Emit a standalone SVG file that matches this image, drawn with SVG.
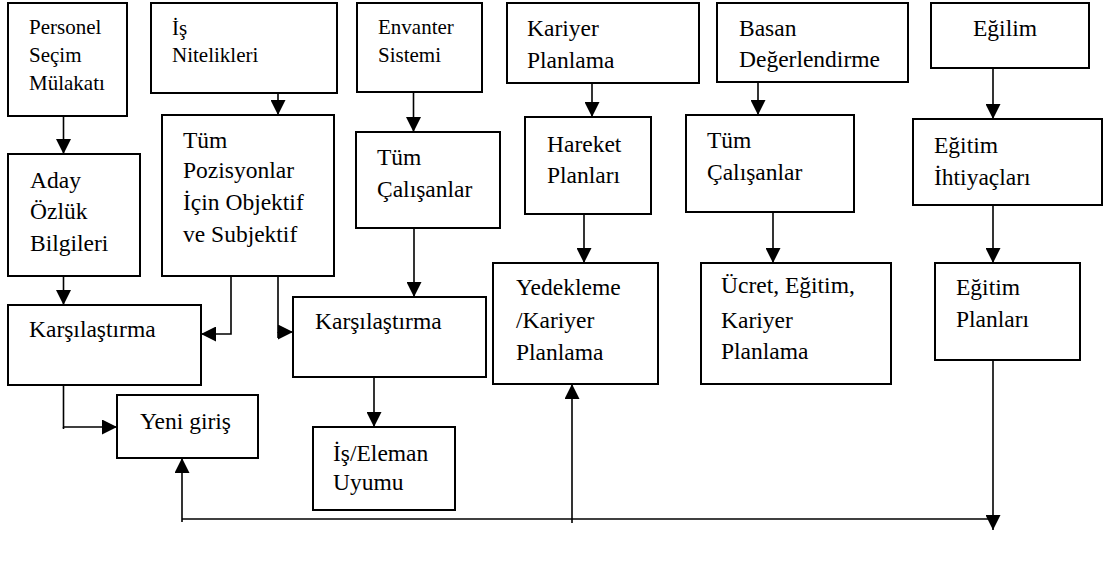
<svg xmlns="http://www.w3.org/2000/svg" width="1104" height="586" viewBox="0 0 1104 586">
<style>
.box{fill:#fff;stroke:#000;stroke-width:2}
.t{font-family:"Liberation Serif","Times New Roman",serif;font-size:23.5px;fill:#000}
.s{font-family:"Liberation Serif","Times New Roman",serif;font-size:21px;fill:#000}
.c{fill:none;stroke:#000;stroke-width:1.6}
.a{marker-end:url(#ah)}
</style>
<defs>
<marker id="ah" viewBox="0 0 10 10" refX="10" refY="5" markerUnits="userSpaceOnUse" markerWidth="16" markerHeight="15" orient="auto">
<path d="M0,0 L10,5 L0,10 z" fill="#000"/>
</marker>
</defs>
<rect width="1104" height="586" fill="#fff"/>
<g id="connectors">
<line class="c a" x1="63.5" y1="116" x2="63.5" y2="154"/>
<line class="c a" x1="278" y1="93" x2="278" y2="115"/>
<line class="c a" x1="413.5" y1="92" x2="413.5" y2="132"/>
<line class="c a" x1="592" y1="83" x2="592" y2="117"/>
<line class="c a" x1="758" y1="82" x2="758" y2="115"/>
<line class="c a" x1="993" y1="68" x2="993" y2="119"/>
<line class="c a" x1="63.5" y1="276" x2="63.5" y2="305"/>
<polyline class="c a" points="231,276 231,334 201,334"/>
<polyline class="c a" points="278,276 278,332 293,332"/>
<line class="c" x1="278" y1="332" x2="278" y2="338"/>
<line class="c a" x1="414" y1="228" x2="414" y2="297"/>
<line class="c a" x1="584" y1="214" x2="584" y2="263"/>
<line class="c a" x1="773" y1="212" x2="773" y2="263"/>
<line class="c a" x1="993" y1="205" x2="993" y2="263"/>
<polyline class="c a" points="63.5,385 63.5,427 117,427"/>
<line class="c" x1="63.5" y1="427" x2="63.5" y2="429"/>
<line class="c a" x1="374" y1="377" x2="374" y2="427"/>
<line class="c" x1="182" y1="519" x2="993" y2="519"/>
<line class="c a" x1="182" y1="522" x2="182" y2="458"/>
<line class="c a" x1="572" y1="523" x2="572" y2="384"/>
<line class="c a" x1="993" y1="360" x2="993" y2="530"/>
</g>
<g id="n-personel">
<rect class="box" x="8" y="3" width="119" height="113"/>
<text class="s" x="29" y="34">Personel</text>
<text class="s" x="29" y="62">Seçim</text>
<text class="s" x="29" y="90">Mülakatı</text>
</g>
<g id="n-is-nitelikleri">
<rect class="box" x="151" y="3" width="186" height="90"/>
<text class="s" x="172" y="35">İş</text>
<text class="s" x="172" y="62">Nitelikleri</text>
</g>
<g id="n-envanter">
<rect class="box" x="357" y="3" width="125" height="89"/>
<text class="s" x="378" y="34">Envanter</text>
<text class="s" x="378" y="62">Sistemi</text>
</g>
<g id="n-kariyer">
<rect class="box" x="507" y="3" width="192" height="80"/>
<text class="t" x="527" y="36">Kariyer</text>
<text class="t" x="527" y="68">Planlama</text>
</g>
<g id="n-basan">
<rect class="box" x="717" y="3" width="191" height="79"/>
<text class="t" x="739" y="36">Basan</text>
<text class="t" x="739" y="67">Değerlendirme</text>
</g>
<g id="n-egilim">
<rect class="box" x="931" y="3" width="158" height="65"/>
<text class="t" x="973" y="36">Eğilim</text>
</g>
<g id="n-aday">
<rect class="box" x="8" y="154" width="132" height="122"/>
<text class="t" x="30" y="188">Aday</text>
<text class="t" x="30" y="219">Özlük</text>
<text class="t" x="30" y="251">Bilgileri</text>
</g>
<g id="n-tum-pozisyonlar">
<rect class="box" x="162" y="115" width="172" height="161"/>
<text class="t" x="183" y="148">Tüm</text>
<text class="t" x="183" y="178">Pozisyonlar</text>
<text class="t" x="183" y="210">İçin Objektif</text>
<text class="t" x="183" y="242">ve Subjektif</text>
</g>
<g id="n-tum-calisanlar-1">
<rect class="box" x="356" y="132" width="144" height="96"/>
<text class="t" x="377" y="165">Tüm</text>
<text class="t" x="377" y="197">Çalışanlar</text>
</g>
<g id="n-hareket">
<rect class="box" x="525" y="117" width="126" height="97"/>
<text class="t" x="547" y="152">Hareket</text>
<text class="t" x="547" y="183">Planları</text>
</g>
<g id="n-tum-calisanlar-2">
<rect class="box" x="686" y="115" width="168" height="97"/>
<text class="t" x="707" y="148">Tüm</text>
<text class="t" x="707" y="180">Çalışanlar</text>
</g>
<g id="n-egitim-ihtiyaclari">
<rect class="box" x="913" y="119" width="189" height="86"/>
<text class="t" x="934" y="153">Eğitim</text>
<text class="t" x="934" y="185">İhtiyaçları</text>
</g>
<g id="n-karsilastirma-1">
<rect class="box" x="8" y="305" width="193" height="80"/>
<text class="t" x="29" y="337">Karşılaştırma</text>
</g>
<g id="n-karsilastirma-2">
<rect class="box" x="293" y="297" width="193" height="80"/>
<text class="t" x="315" y="329">Karşılaştırma</text>
</g>
<g id="n-yedekleme">
<rect class="box" x="493" y="263" width="165" height="121"/>
<text class="t" x="516" y="295">Yedekleme</text>
<text class="t" x="516" y="328">/Kariyer</text>
<text class="t" x="516" y="360">Planlama</text>
</g>
<g id="n-ucret">
<rect class="box" x="701" y="263" width="190" height="121"/>
<text class="t" x="721" y="293">Ücret, Eğitim,</text>
<text class="t" x="721" y="328">Kariyer</text>
<text class="t" x="721" y="359">Planlama</text>
</g>
<g id="n-egitim-planlari">
<rect class="box" x="935" y="263" width="145" height="97"/>
<text class="t" x="956" y="295">Eğitim</text>
<text class="t" x="956" y="327">Planları</text>
</g>
<g id="n-yeni-giris">
<rect class="box" x="117" y="395" width="141" height="63"/>
<text class="t" x="140" y="429">Yeni giriş</text>
</g>
<g id="n-is-eleman">
<rect class="box" x="313" y="427" width="142" height="83"/>
<text class="t" x="333" y="461">İş/Eleman</text>
<text class="t" x="333" y="490">Uyumu</text>
</g>
</svg>
